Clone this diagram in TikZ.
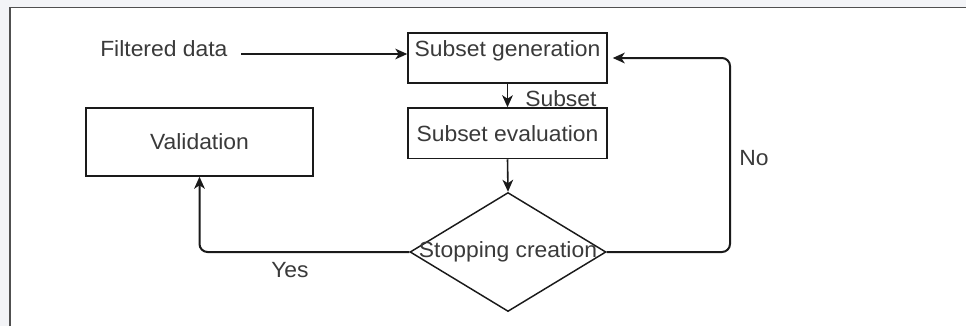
\documentclass[tikz,border=0pt]{standalone}
\usepackage{fontspec}
\setmainfont{Liberation Sans}[FakeStretch=1.04]
\usetikzlibrary{shapes.geometric,arrows.meta}
\definecolor{txtgray}{HTML}{3A3A3A}
\definecolor{linecol}{HTML}{1A1A1A}
\definecolor{outbg}{HTML}{F3F4F7}
\definecolor{framecol}{HTML}{505050}
\begin{document}
\begin{tikzpicture}[x=0.75pt,y=-0.75pt,
  every node/.style={font=\fontsize{16.5pt}{19pt}\selectfont, text=txtgray},
  box/.style={draw=linecol, line width=1.1pt, rectangle, inner sep=0pt},
  decision/.style={draw=linecol, line width=1.1pt, diamond, inner sep=0pt},
  lbl/.style={inner sep=0pt, anchor=base west},
  arr/.style={draw=linecol, line width=1.2pt, -{Stealth[length=9pt,width=8pt,inset=2.6pt]}},
  loop/.style={arr, line width=1.5pt, rounded corners=6pt}
]
\useasboundingbox (0,0) rectangle (966,326);
% page frame
\fill[outbg] (0,0) rectangle (966,326);
\fill[white] (10,7.5) rectangle (966,326);
\draw[framecol, line width=1.3pt] (10,326) -- (10,7.5) -- (966,7.5);

% nodes
\node[box, minimum width=149.25pt, text height=17.25pt, text depth=20.25pt] (gen) at (507.5,58) {Subset generation};
\node[box, minimum width=149.25pt, minimum height=37.9pt] (eval) at (507.5,133.25) {Subset evaluation};
\node[box, minimum width=170.25pt, minimum height=51pt] (val) at (199.5,142) {Validation};
\node[decision, minimum width=147pt, minimum height=89.25pt,
      label={[inner sep=0pt]center:Stopping creation}] (stop) at (508,252) {};

\node[lbl] (fd) at (100,56) {Filtered data};
\node[lbl] (sub) at (525,106) {Subset};
\node[lbl] (no) at (739,165) {No};
\node[lbl] (yes) at (271,277) {Yes};

% connectors
\coordinate (fdend) at (241,54);
\draw[arr] (fdend) -- (gen.west |- fdend);
\draw[arr] (gen.south) -- (eval.north);
\draw[arr] (eval.south) -- (stop.north);
\draw[loop] (stop.east) -| (730,58) -- ([xshift=3.75pt]gen.east);
\draw[loop] (stop.west) -| (val.south);
\end{tikzpicture}
\end{document}
